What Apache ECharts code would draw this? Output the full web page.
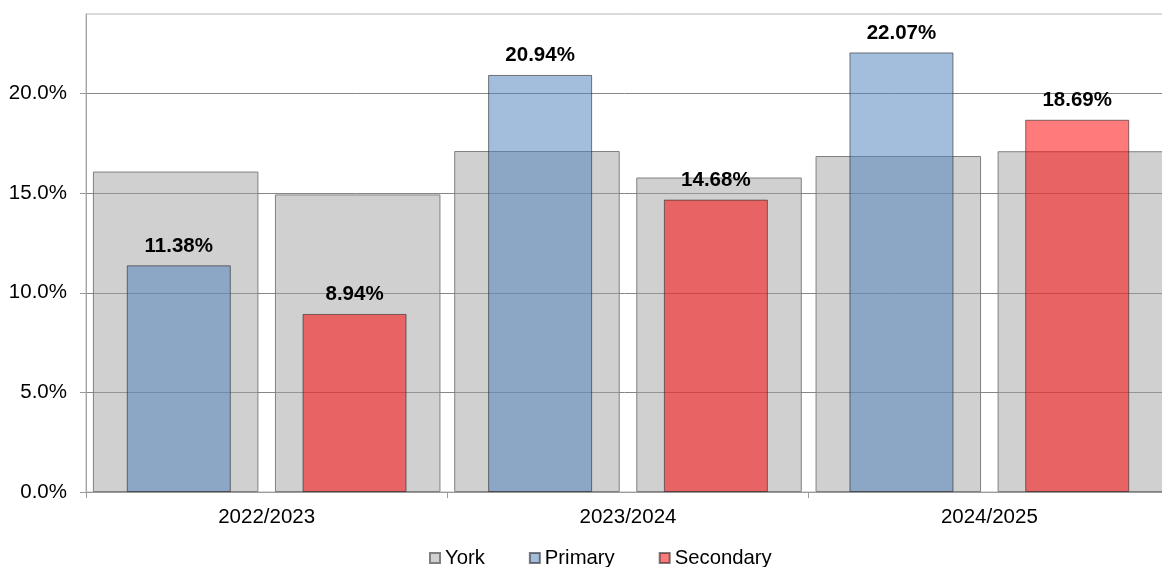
<!DOCTYPE html>
<html>
<head>
<meta charset="utf-8">
<script src="https://cdn.jsdelivr.net/npm/echarts@6/dist/echarts.min.js"></script>
<style>
html,body{margin:0;padding:0;background:#fff;}
#chart{width:1162px;height:567px;}
</style>
</head>
<body>
<div id="chart"></div>
<script>
const categories = ['2022/2023', '2023/2024', '2024/2025'];
const yorkPrimary = [16.09, 17.12, 16.87];
const yorkSecondary = [14.94, 15.79, 17.11];
const primary = [11.38, 20.94, 22.07];
const secondary = [8.94, 14.68, 18.69];
const yTicks = [0, 5, 10, 15, 20];

const FONT = '"Liberation Sans", Arial, sans-serif';
const chart = echarts.init(document.getElementById('chart'), null, {renderer: 'canvas'});

const yorkStyle = {color: 'rgba(161,161,161,0.5)', borderColor: '#808080', borderWidth: 1};
const labelStyle = {
  show: true, position: 'top', distance: 9,
  formatter: p => p.value.toFixed(2) + '%',
  color: '#000', fontFamily: FONT, fontSize: 20.5, fontWeight: 'bold'
};

chart.setOption({
  animation: false,
  backgroundColor: '#fff',
  grid: {left: 86, top: 14, width: 1084, height: 478, outerBoundsMode: 'none', containLabel: false,
    show: true, borderColor: '#b3b3b3', borderWidth: 1, backgroundColor: 'transparent'},
  legend: {
    data: ['York', 'Primary', 'Secondary'],
    left: 424, top: 543,
    icon: 'rect', itemWidth: 10, itemHeight: 10, itemGap: 44,
    textStyle: {color: '#000', fontFamily: FONT, fontSize: 20.3, padding: [0, 0, 0, 0]}
  },
  xAxis: [
    {
      type: 'category', data: categories, boundaryGap: true,
      axisLine: {show: true, lineStyle: {color: '#9a9a9a', width: 1}},
      axisTick: {show: true, length: 6, alignWithLabel: false, lineStyle: {color: '#9a9a9a'}},
      axisLabel: {color: '#000', fontFamily: FONT, fontSize: 20.5, margin: 15},
      splitLine: {show: false}
    },
    {
      type: 'category', data: categories, boundaryGap: true, show: false,
      axisLine: {show: false}, axisTick: {show: false}, axisLabel: {show: false}
    }
  ],
  yAxis: {
    type: 'value', min: 0, max: 24, interval: 5,
    axisLine: {show: true, lineStyle: {color: '#a6a6a6', width: 1}},
    axisTick: {show: true, length: 6, customValues: yTicks, lineStyle: {color: '#9a9a9a'}},
    axisLabel: {
      customValues: yTicks,
      formatter: v => v.toFixed(1) + '%',
      color: '#000', fontFamily: FONT, fontSize: 20.5, margin: 19
    },
    splitLine: {show: true, lineStyle: {color: ['#868686', '#868686', '#868686', '#868686', '#868686', '#b3b3b3'], width: 1}}
  },
  series: [
    {name: 'York', type: 'bar', xAxisIndex: 0, data: yorkPrimary, barWidth: 165.5, barGap: '10%', itemStyle: yorkStyle},
    {name: 'York', type: 'bar', xAxisIndex: 0, data: yorkSecondary, barWidth: 165.5, barGap: '10%', itemStyle: yorkStyle},
    {name: 'Primary', type: 'bar', xAxisIndex: 1, data: primary, barWidth: 104, barGap: '69%',
      itemStyle: {color: 'rgba(79,129,189,0.52)', borderColor: 'rgba(40,40,40,0.6)', borderWidth: 1}, label: labelStyle},
    {name: 'Secondary', type: 'bar', xAxisIndex: 1, data: secondary, barWidth: 104, barGap: '69%',
      itemStyle: {color: 'rgba(255,0,0,0.52)', borderColor: 'rgba(40,40,40,0.6)', borderWidth: 1}, label: labelStyle}
  ]
});
</script>
</body>
</html>
